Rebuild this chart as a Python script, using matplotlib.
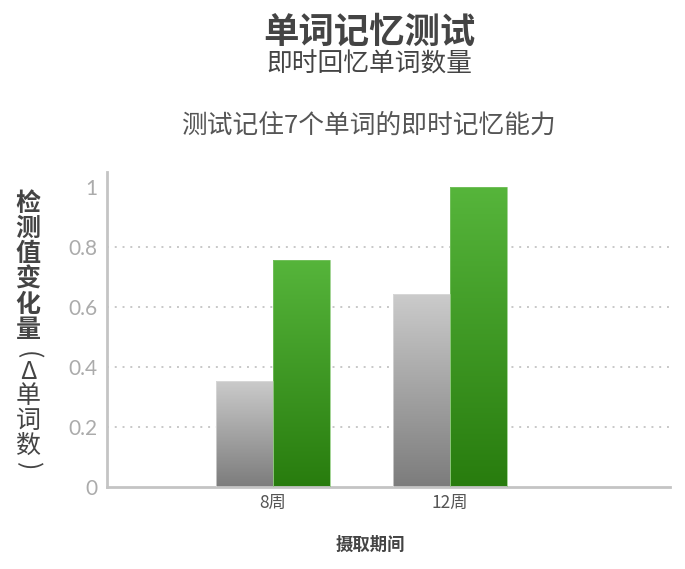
import numpy as np
import matplotlib
matplotlib.use("Agg")
import matplotlib.pyplot as plt
from matplotlib.colors import LinearSegmentedColormap

plt.rcParams['font.family'] = ['Noto Sans CJK SC', 'DejaVu Sans']

categories = ['8周', '12周']
gray_values = [0.355, 0.643]
green_values = [0.757, 1.0]
yticks = [0, 0.2, 0.4, 0.6, 0.8, 1]
ytick_labels = ['0', '0.2', '0.4', '0.6', '0.8', '1']

W, H = 685, 569
fig = plt.figure(figsize=(W / 100, H / 100), dpi=100)
ax = fig.add_axes([107 / W, 1 - 487 / H, (670 - 107) / W, (487 - 172) / H])

gray_cmap = LinearSegmentedColormap.from_list('g', ['#7c7c7c', '#cbcbcb'])
green_cmap = LinearSegmentedColormap.from_list('gr', ['#287c0e', '#56b53b'])

x = np.arange(len(categories))
width = 0.32
grad = np.linspace(0, 1, 256).reshape(-1, 1)

def gradient_bars(xs, vals, cmap, edge):
    bars = ax.bar(xs, vals, width, color='none', edgecolor=edge, linewidth=0.5, zorder=3)
    for b in bars:
        x0, y0 = b.get_x(), b.get_y()
        im = ax.imshow(grad, extent=(x0, x0 + b.get_width(), y0, y0 + b.get_height()),
                       origin='lower', cmap=cmap, aspect='auto', zorder=2)
        im.set_clip_path(b)

gradient_bars(x - 0.16, gray_values, gray_cmap, '#dddddd')
gradient_bars(x + 0.16, green_values, green_cmap, '#7fc46a')

ax.set_xlim(-0.938, 2.243)
ax.set_ylim(0, 1.05)

for t in yticks[1:-1]:
    ax.axhline(t, color='#c8c8c8', lw=1.4, linestyle=(0, (1, 3)), zorder=1)

for s in ['top', 'right']:
    ax.spines[s].set_visible(False)
for s in ['left', 'bottom']:
    ax.spines[s].set_color('#c4c4c4')
    ax.spines[s].set_linewidth(2)

ax.set_yticks(yticks)
ax.set_yticklabels(ytick_labels, family='Lato', fontsize=15, color='#ababab')
ax.set_xticks(x)
ax.set_xticklabels(categories, fontsize=12.5, color='#555555')
ax.tick_params(axis='both', length=0)
ax.tick_params(axis='y', pad=7)
ax.tick_params(axis='x', pad=5)

fig.text(369 / W, 1 - 32 / H, '单词记忆测试', ha='center', va='center',
         fontsize=25.5, fontweight='bold', color='#444444')
fig.text(369 / W, 1 - 65 / H, '即时回忆单词数量', ha='center', va='center',
         fontsize=18.5, color='#444444')
fig.text(368 / W, 1 - 126 / H, '测试记住7个单词的即时记忆能力', ha='center', va='center',
         fontsize=18.5, color='#555555')
fig.text(370 / W, 1 - 545 / H, '摄取期间', ha='center', va='center',
         fontsize=12.5, fontweight='bold', color='#444444')

# vertical y label, one character per line
bold_chars = '检测值变化量'
for i, ch in enumerate(bold_chars):
    fig.text(28 / W, 1 - (204 + i * 25.2) / H, ch, ha='center', va='center',
             fontsize=18, fontweight='bold', color='#444444')
rest = [('(', 355, -90), ('Δ', 372, 0), ('单', 396, 0), ('词', 421, 0), ('数', 446, 0), (')', 466, -90)]
for ch, yy, rot in rest:
    fig.text(28 / W, 1 - yy / H, ch, ha='center', va='center', rotation=rot,
             fontsize=18, color='#444444')

fig.savefig('out.png', dpi=100)
